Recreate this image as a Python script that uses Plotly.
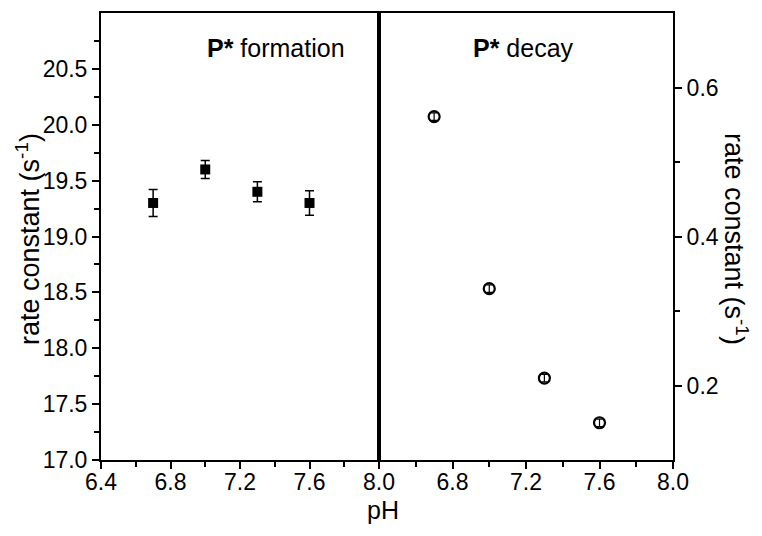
import plotly.graph_objects as go

# ---------------------------------------------------------------------------
# Data
# ---------------------------------------------------------------------------

PH = [6.7, 7.0, 7.3, 7.6]

FORMATION_K = [19.30, 19.60, 19.40, 19.30]
FORMATION_ERR = [0.12, 0.08, 0.09, 0.11]

DECAY_K = [0.561, 0.330, 0.210, 0.150]
DECAY_ERR = [0.005, 0.005, 0.005, 0.005]

LEFT_Y_TICKS = [17.0, 17.5, 18.0, 18.5, 19.0, 19.5, 20.0, 20.5]
LEFT_Y_MINOR = [17.25, 17.75, 18.25, 18.75, 19.25, 19.75, 20.25, 20.75]
RIGHT_Y_TICKS = [0.2, 0.4, 0.6]
RIGHT_Y_MINOR = [0.3, 0.5]
LEFT_X_TICKS = [6.4, 6.8, 7.2, 7.6, 8.0]
RIGHT_X_TICKS = [6.8, 7.2, 7.6, 8.0]
X_MINOR = [6.6, 7.0, 7.4, 7.8]

FONT = "Liberation Sans, Arial, sans-serif"
BLACK = "#000000"

# page body has an 8px margin, so the plot box is shifted by that much
PLOT_L, PLOT_R, PLOT_T, PLOT_B = 101 - 8, 673 - 8, 11 - 8, 460 - 8
W, H = 762, 536

# ---------------------------------------------------------------------------
# Traces
# ---------------------------------------------------------------------------

formation = go.Scatter(
    x=PH,
    y=FORMATION_K,
    mode="markers",
    marker={"symbol": "square", "size": 10, "color": BLACK},
    error_y={"type": "data", "array": FORMATION_ERR, "color": BLACK,
             "thickness": 1.5, "width": 4.5},
    xaxis="x",
    yaxis="y",
    showlegend=False,
)
decay = go.Scatter(
    x=PH,
    y=DECAY_K,
    mode="markers",
    marker={"symbol": "circle-open", "size": 11, "color": BLACK,
            "line": {"width": 2.2, "color": BLACK}},
    error_y={"type": "data", "array": DECAY_ERR, "color": BLACK,
             "thickness": 1.2, "width": 3},
    xaxis="x2",
    yaxis="y2",
    showlegend=False,
)

fig = go.Figure(data=[formation, decay])

plot_w = PLOT_R - PLOT_L
plot_h = PLOT_B - PLOT_T
split = 278 / plot_w


def px_x(px):
    """Reference pixel x -> paper fraction of the plot box."""
    return (px - 8 - PLOT_L) / plot_w


def px_y(px):
    """Reference pixel y -> paper fraction of the plot box."""
    return (PLOT_B - (px - 8)) / plot_h


minor_style = {"ticks": "outside", "ticklen": 5, "tickcolor": BLACK, "tickwidth": 1.5}
axis_common = {
    "showline": True,
    "linecolor": BLACK,
    "linewidth": 2,
    "mirror": True,
    "ticks": "outside",
    "ticklen": 7,
    "tickwidth": 1.5,
    "tickcolor": BLACK,
    "showgrid": False,
    "zeroline": False,
    "tickfont": {"family": FONT, "size": 23, "color": BLACK},
}

fig.update_layout(
    width=W,
    height=H,
    margin={"l": PLOT_L, "r": W - PLOT_R, "t": PLOT_T, "b": H - PLOT_B},
    paper_bgcolor="white",
    plot_bgcolor="white",
    font={"family": FONT, "color": BLACK},
    xaxis={
        **axis_common,
        "domain": [0, split],
        "range": [6.4, 8.0],
        "tickvals": LEFT_X_TICKS,
        "ticktext": [f"{v:.1f}" for v in LEFT_X_TICKS],
        "minor": {"tickvals": X_MINOR, **minor_style},
        "ticklabelstandoff": -7,
        "anchor": "y",
    },
    yaxis={
        **axis_common,
        "range": [17.0, 21.0],
        "tickvals": LEFT_Y_TICKS,
        "ticktext": [f"{v:.1f}" for v in LEFT_Y_TICKS],
        "minor": {"tickvals": LEFT_Y_MINOR, **minor_style},
        "anchor": "x",
    },
    xaxis2={
        **axis_common,
        "domain": [split, 1],
        "range": [6.4, 8.0],
        "tickvals": RIGHT_X_TICKS,
        "ticktext": [f"{v:.1f}" for v in RIGHT_X_TICKS],
        "minor": {"tickvals": X_MINOR, **minor_style},
        "ticklabelstandoff": -7,
        "anchor": "y2",
    },
    yaxis2={
        **axis_common,
        "range": [0.1, 0.7],
        "side": "right",
        "tickvals": RIGHT_Y_TICKS,
        "ticktext": [f"{v:.1f}" for v in RIGHT_Y_TICKS],
        "minor": {"tickvals": RIGHT_Y_MINOR, **minor_style},
        "anchor": "x2",
    },
    annotations=[
        {"text": "<b>P*</b> formation", "xref": "paper", "yref": "paper",
         "x": px_x(205), "y": px_y(46), "xanchor": "left", "yanchor": "middle",
         "showarrow": False, "font": {"family": FONT, "size": 25, "color": BLACK}},
        {"text": "<b>P*</b> decay", "xref": "paper", "yref": "paper",
         "x": px_x(471), "y": px_y(46), "xanchor": "left", "yanchor": "middle",
         "showarrow": False, "font": {"family": FONT, "size": 25, "color": BLACK}},
        {"text": "pH", "xref": "paper", "yref": "paper",
         "x": px_x(383), "y": px_y(510),
         "xanchor": "center", "yanchor": "middle", "showarrow": False,
         "font": {"family": FONT, "size": 25, "color": BLACK}},
        {"text": "rate constant (s<sup>-1</sup>)", "xref": "paper", "yref": "paper",
         "x": px_x(28), "y": px_y(238), "textangle": -90,
         "xanchor": "center", "yanchor": "middle", "showarrow": False,
         "font": {"family": FONT, "size": 27, "color": BLACK}},
        {"text": "rate constant (s<sup>-1</sup>)", "xref": "paper", "yref": "paper",
         "x": px_x(736), "y": px_y(238), "textangle": 90,
         "xanchor": "center", "yanchor": "middle", "showarrow": False,
         "font": {"family": FONT, "size": 27, "color": BLACK}},
    ],
)

fig.write_html("out.html")
